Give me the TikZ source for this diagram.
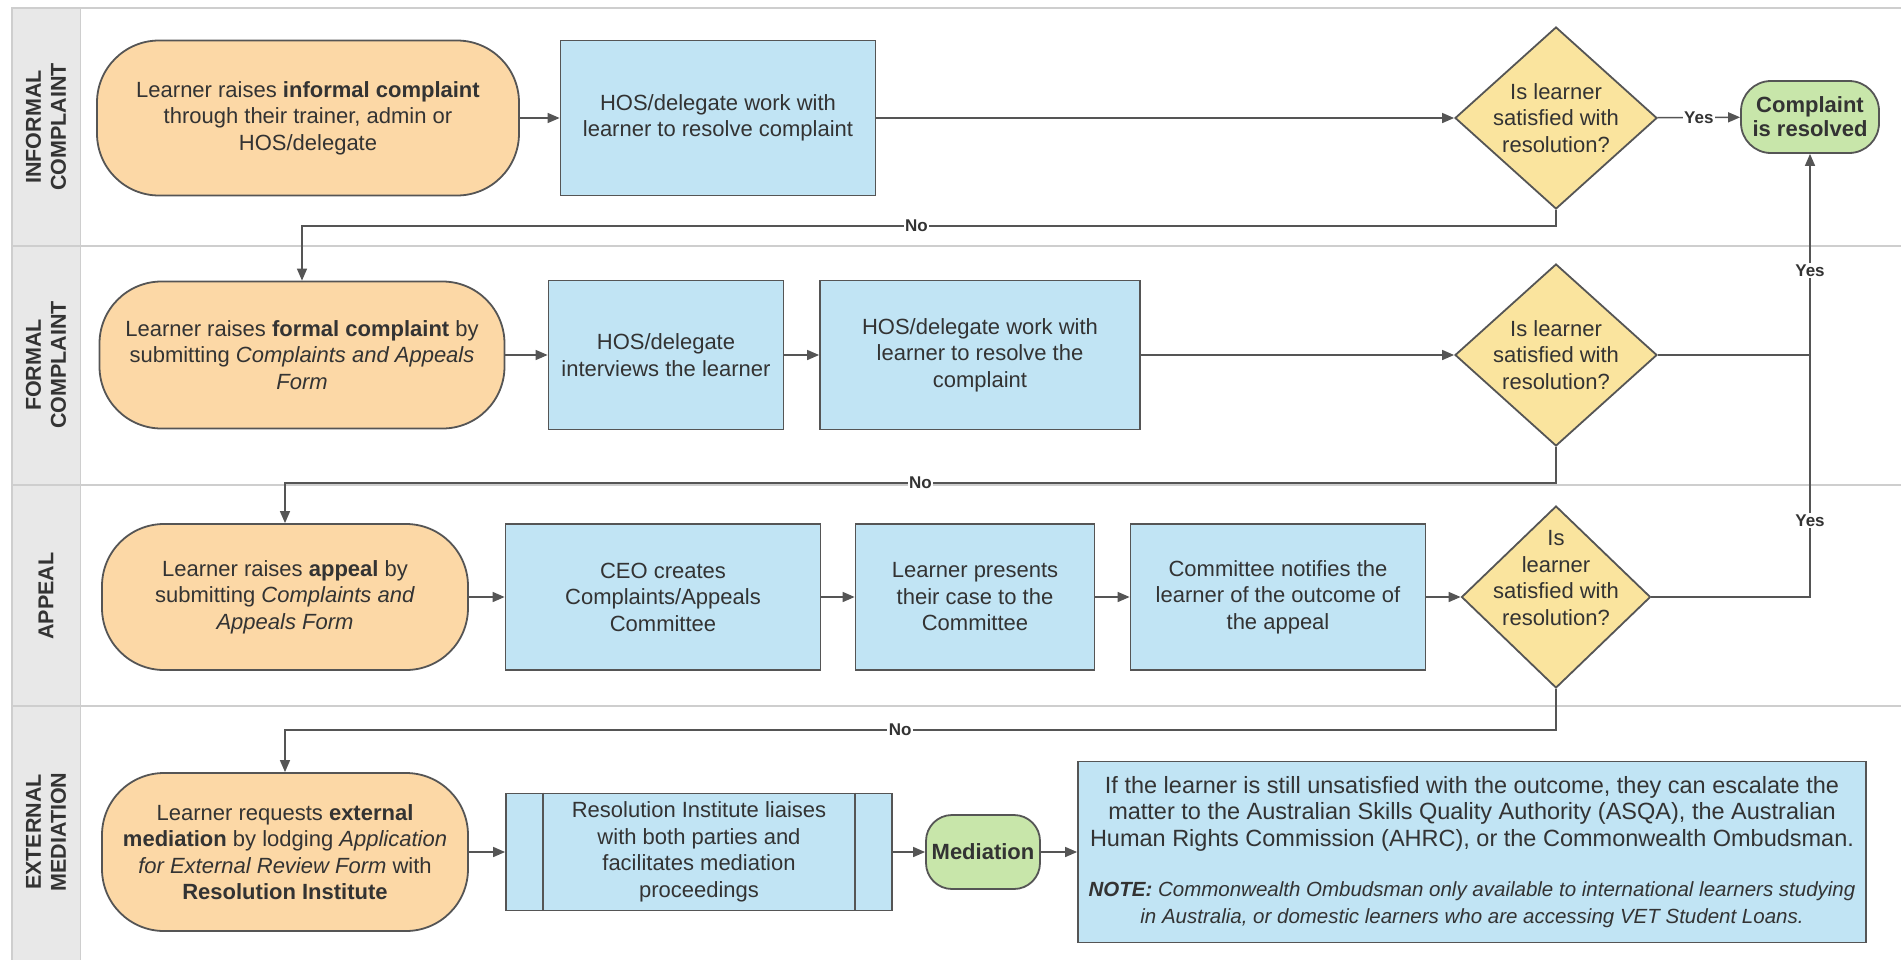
\documentclass[tikz,border=0pt]{standalone}
\usepackage{fontspec}
\setmainfont{Liberation Sans}
\usepackage{tikz}
\usepackage{color}
\usetikzlibrary{shapes.geometric,arrows.meta}
\definecolor{termorange}{RGB}{252,216,166}
\definecolor{procblue}{RGB}{193,228,244}
\definecolor{decyellow}{RGB}{250,228,158}
\definecolor{endgreen}{RGB}{200,230,170}
\definecolor{edgegray}{RGB}{85,85,85}
\definecolor{lanegray}{RGB}{232,232,232}
\definecolor{laneline}{RGB}{206,206,206}
\definecolor{txtgray}{RGB}{51,51,51}

\begin{document}
\begin{tikzpicture}[x=1pt,y=-1pt]
	\tikzstyle{every node}+=[inner sep=0pt, text=txtgray, font=\fontsize{22}{26.5}\selectfont]
	\tikzstyle{termbox}=[draw=edgegray, line width=1.8pt, fill=termorange, rounded corners=62pt, align=center]
	\tikzstyle{procbox}=[draw=edgegray, line width=1.8pt, fill=procblue, align=center]
	\tikzstyle{decide}=[draw=edgegray, line width=1.8pt, fill=decyellow, diamond, shape aspect=1.1, inner sep=-14pt, align=center]
	\tikzstyle{endbox}=[draw=edgegray, line width=1.8pt, fill=endgreen, rounded corners=30pt, align=center, font=\fontsize{22}{24}\selectfont\bfseries]
	\tikzstyle{flow}=[draw=edgegray, line width=1.5pt, -{Triangle[length=12pt,width=10pt]}]
	\tikzstyle{plainlink}=[draw=edgegray, line width=1.5pt]
	\tikzstyle{lbl}=[fill=white, inner sep=1.5pt, font=\fontsize{17}{19}\selectfont\bfseries]
	\tikzstyle{lanename}=[rotate=90, align=center, font=\fontsize{21.5}{25}\selectfont\bfseries]
	\useasboundingbox (0,0) rectangle (1901,959);
	\fill [white] (0,0) rectangle (1901,959);
	\fill [lanegray] (12,8) rectangle (80,962);
	\draw [laneline, line width=2pt] (12,962) -- (12,8) -- (1905,8);
	\draw [laneline, line width=2pt] (12,246) -- (1905,246);
	\draw [laneline, line width=2pt] (12,485) -- (1905,485);
	\draw [laneline, line width=2pt] (12,706) -- (1905,706);
	\draw [laneline, line width=1pt] (80,8) -- (80,962);
	\node [lanename] (lane1) at (46,127) {INFORMAL\\COMPLAINT};
	\node [lanename] (lane2) at (46,365) {FORMAL\\COMPLAINT};
	\node [lanename] (lane3) at (46,596) {APPEAL};
	\node [lanename] (lane4) at (46,832) {EXTERNAL\\MEDIATION};
	\node [termbox, minimum width=422pt, minimum height=155pt] (inf) at (308,118) {Learner raises \textbf{informal complaint}\\through their trainer, admin or\\HOS/delegate};
	\node [procbox, minimum width=315pt, minimum height=155pt] (hoswork) at (718,118) {HOS/delegate work with\\learner to resolve complaint};
	\node [decide, minimum width=202pt, minimum height=182pt] (sat1) at (1556,118) {Is learner\\satisfied with\\resolution?};
	\node [endbox, minimum width=138pt, minimum height=72pt] (resolved) at (1810,117) {Complaint\\is resolved};
	\node [termbox, minimum width=405pt, minimum height=147pt] (formal) at (302,355) {Learner raises \textbf{formal complaint} by\\submitting \textit{Complaints and Appeals}\\\textit{Form}};
	\node [procbox, minimum width=235pt, minimum height=149pt] (interview) at (666,355) {HOS/delegate\\interviews the learner};
	\node [procbox, minimum width=320pt, minimum height=149pt] (hoswork2) at (980,355) {HOS/delegate work with\\learner to resolve the\\complaint};
	\node [decide, minimum width=202pt, minimum height=182pt] (sat2) at (1556,355) {Is learner\\satisfied with\\resolution?};
	\node [termbox, minimum width=366pt, minimum height=146pt] (appeal) at (285,597) {Learner raises \textbf{appeal} by\\submitting \textit{Complaints and}\\\textit{Appeals Form}};
	\node [procbox, minimum width=315pt, minimum height=146pt] (ceo) at (663,597) {CEO creates\\Complaints/Appeals\\Committee};
	\node [procbox, minimum width=239pt, minimum height=146pt] (present) at (975,597) {Learner presents\\their case to the\\Committee};
	\node [procbox, minimum width=295pt, minimum height=146pt] (notify) at (1278,597) {Committee notifies the\\learner of the outcome of\\the appeal};
	\node [decide, minimum width=189pt, minimum height=182pt] (sat3) at (1556,597) {\raisebox{17pt}[\height][\depth]{\begin{tabular}{@{}c@{}}Is\\learner\\satisfied with\\resolution?\end{tabular}}};
	\node [termbox, minimum width=366pt, minimum height=158pt] (external) at (285,852) {Learner requests \textbf{external}\\\textbf{mediation} by lodging \textit{Application}\\\textit{for External Review Form} with\\\textbf{Resolution Institute}};
	\node [procbox, minimum width=386pt, minimum height=117pt] (liaise) at (699,852) {Resolution Institute liaises\\with both parties and\\facilitates mediation\\proceedings};
	\node [endbox, minimum width=114pt, minimum height=74pt, rounded corners=26pt] (mediation) at (983,852) {Mediation};
	\node [procbox, minimum width=788pt, minimum height=181pt, font=\fontsize{20.5}{26.5}\selectfont] (escalate) at (1472,852) {{\fontsize{23.5}{26.5}\selectfont If the learner is still unsatisfied with the outcome, they can escalate the}\\{\fontsize{23.5}{26.5}\selectfont matter to the Australian Skills Quality Authority (ASQA), the Australian}\\{\fontsize{23.5}{26.5}\selectfont Human Rights Commission (AHRC), or the Commonwealth Ombudsman.}\\[24pt]\textbf{\textit{NOTE:}} \textit{Commonwealth Ombudsman only available to international learners studying}\\\textit{in Australia, or domestic learners who are accessing VET Student Loans.}};
	\draw [edgegray, line width=1.8pt] ([xshift=38pt]liaise.north west) -- ([xshift=38pt]liaise.south west);
	\draw [edgegray, line width=1.8pt] ([xshift=-38pt]liaise.north east) -- ([xshift=-38pt]liaise.south east);
	\coordinate (no1a) at (1556,226);
	\coordinate (no1b) at (302,226);
	\coordinate (no2a) at (1556,483);
	\coordinate (no2b) at (285,483);
	\coordinate (no3a) at (1556,730);
	\coordinate (no3b) at (285,730);
	\draw [flow] (inf) -- (hoswork);
	\draw [flow] (hoswork) -- (sat1);
	\draw [flow] (sat1) -- node [lbl] {Yes} (resolved);
	\draw [flow] (sat1.south) -- (no1a) -- node [lbl, pos=0.51] {No} (no1b) -- (formal.north);
	\draw [flow] (formal) -- (interview);
	\draw [flow] (interview) -- (hoswork2);
	\draw [flow] (hoswork2) -- (sat2);
	\draw [plainlink] (sat2.east) -- (sat2.east -| resolved.south);
	\draw [flow] (sat2.south) -- (no2a) -- node [lbl, pos=0.5] {No} (no2b) -- (appeal.north);
	\draw [flow] (appeal) -- (ceo);
	\draw [flow] (ceo) -- (present);
	\draw [flow] (present) -- (notify);
	\draw [flow] (notify) -- (sat3);
	\draw [flow] (sat3.east) -| node [lbl, pos=0.868] {Yes} node [lbl, pos=0.586] {Yes} (resolved.south);
	\draw [flow] (sat3.south) -- (no3a) -- node [lbl, pos=0.516] {No} (no3b) -- (external.north);
	\draw [flow] (external) -- (liaise);
	\draw [flow] (liaise) -- (mediation);
	\draw [flow] (mediation) -- (escalate);
\end{tikzpicture}
\end{document}
